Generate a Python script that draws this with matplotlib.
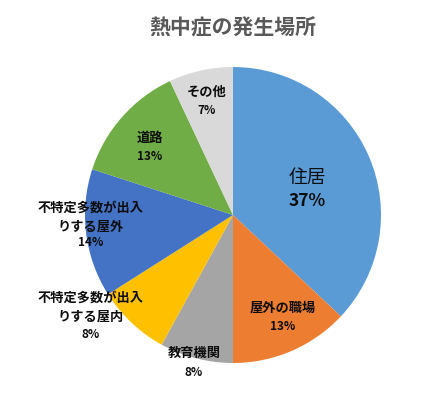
import matplotlib.pyplot as plt

plt.rcParams['font.family'] = ['Noto Sans CJK JP', 'DejaVu Sans']

# データ
labels = ['住居', '屋外の職場', '教育機関', '不特定多数が出入\nりする屋内',
          '不特定多数が出入\nりする屋外', '道路', 'その他']
values = [37, 13, 8, 8, 14, 13, 7]
colors = ['#5B9BD5', '#ED7D31', '#A5A5A5', '#FFC000', '#4472C4', '#70AD47', '#D9D9D9']

# ラベル位置 (画像ピクセル: x, 名前の中心 y, パーセントの中心 y)
label_px = [(307, 177, 201), (283, 308, 326), (194, 353, 372), (91, 307, 334),
            (91, 217, 243), (150, 138, 156), (207, 92, 110)]

cx, cy, r = 233, 215, 148

fig = plt.figure(figsize=(4.46, 3.95), dpi=100)
ax = fig.add_axes([(cx - r) / 446, (395 - cy - r) / 395, 2 * r / 446, 2 * r / 395])
ax.pie(values, colors=colors, startangle=90, counterclock=False,
       wedgeprops=dict(linewidth=0))
ax.set_xlim(-1, 1)
ax.set_ylim(-1, 1)
ax.set_aspect('equal')
ax.axis('off')

def to_data(px, py):
    return (px - cx) / r, (cy - py) / r

for i, (lab, v, (px, py, py2)) in enumerate(zip(labels, values, label_px)):
    big = i == 0
    x, y = to_data(px, py)
    ax.text(x, y, lab, ha='center', va='center', fontsize=13.5 if big else 9.5,
            fontweight='normal' if big else 'bold', color='#0D0D0D',
            linespacing=1.4, clip_on=False)
    x2, y2 = to_data(px, py2)
    ax.text(x2, y2, f'{v}%', ha='center', va='center', fontsize=12.5 if big else 8.5,
            fontweight='bold', color='#0D0D0D', clip_on=False)

fig.text(233 / 446, 1 - 28 / 395, '熱中症の発生場所', ha='center', va='center',
         fontsize=15, fontweight='bold', color='#595959')

fig.savefig('out.png', dpi=100)
